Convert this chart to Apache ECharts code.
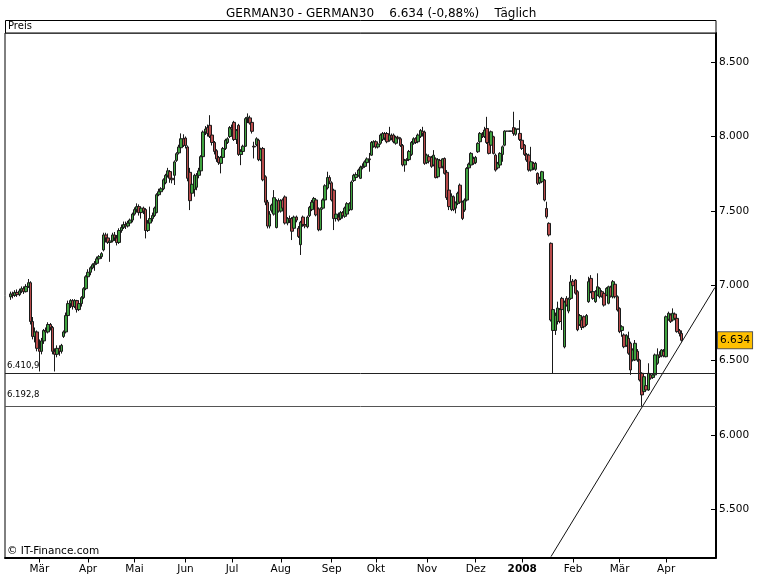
<!DOCTYPE html>
<html><head><meta charset="utf-8">
<script src="https://cdn.jsdelivr.net/npm/echarts@6/dist/echarts.min.js"></script>
<style>html,body{margin:0;padding:0;background:#fff}#c{width:770px;height:578px}</style>
</head><body><div id="c"></div>
<script>
// ---- data ----
const titleText = 'GERMAN30 - GERMAN30    6.634 (-0,88%)    Täglich';
const monthNames = ['Jan','Feb','Mär','Apr','Mai','Jun','Jul','Aug','Sep','Okt','Nov','Dez'];
const yTicks = [5500, 6000, 6500, 7000, 7500, 8000, 8500];
const categoryCount = 321;      // weekdays from 2007-02-08
const leadingEmpty = 2;         // first candle on 2007-02-12
const supportLevels = [6410.9, 6192.8];
const trendLine = [[246, 5184], [320, 6988]]; // [category index, value]
const lastPrice = 6634;
const copyright = '© IT-Finance.com';
const panelLabel = 'Preis';

// daily candles [open, close, low, high]
const candles = [
[6925,6945,6905,6960],[6945,6935,6915,6960],[6935,6955,6925,6970],[6955,6940,6925,6975],[6940,6965,6930,6980],
[6965,6980,6950,6995],[6980,6960,6945,6995],[6960,6995,6955,7010],[6995,7020,6985,7045],[7020,6760,6740,7030],
[6760,6660,6640,6790],[6660,6690,6620,6720],[6690,6580,6560,6700],[6580,6560,6425,6640],[6560,6630,6540,6650],
[6630,6700,6610,6710],[6700,6690,6660,6720],[6690,6740,6680,6755],[6740,6720,6700,6750],[6720,6560,6540,6730],
[6560,6540,6425,6580],[6540,6580,6520,6600],[6580,6560,6530,6600],[6560,6600,6545,6610],[6660,6690,6650,6700],
[6690,6800,6680,6820],[6800,6880,6790,6900],[6880,6900,6850,6910],[6900,6860,6840,6910],[6860,6900,6850,6910],
[6900,6840,6820,6905],[6840,6880,6830,6900],[6880,6920,6860,6930],[6920,6980,6910,6990],[6980,7060,6970,7070],
[7060,7090,7050,7110],[7090,7120,7070,7130],[7120,7140,7110,7150],[7140,7150,7100,7165],[7150,7180,7140,7195],
[7180,7195,7160,7205],[7195,7215,7180,7225],[7240,7340,7230,7355],[7340,7320,7290,7355],[7320,7290,7280,7350],
[7290,7300,7160,7320],[7300,7340,7290,7355],[7340,7320,7300,7360],[7320,7290,7270,7340],[7290,7370,7280,7385],
[7370,7390,7355,7410],[7390,7410,7380,7430],[7410,7400,7380,7430],[7400,7420,7390,7435],
[7420,7440,7400,7450],[7440,7480,7425,7490],[7480,7510,7470,7525],[7510,7530,7490,7552],[7530,7490,7470,7545],
[7490,7520,7450,7530],[7520,7500,7480,7530],[7510,7370,7317,7520],[7370,7420,7360,7440],[7420,7450,7410,7530],
[7450,7470,7430,7490],[7470,7520,7460,7530],[7490,7610,7485,7620],[7610,7630,7600,7650],[7630,7650,7615,7660],
[7650,7710,7640,7720],[7690,7740,7680,7750],[7740,7770,7725,7790],[7765,7720,7690,7775],[7720,7710,7686,7740],
[7740,7830,7675,7840],[7840,7885,7830,7895],[7890,7930,7880,7945],[7925,7985,7915,8021],[7985,7940,7930,8015],
[7990,7940,7920,8000],[7930,7720,7700,7940],[7760,7570,7507,7790],[7620,7680,7600,7690],[7645,7740,7597,7750],
[7660,7740,7640,7755],[7740,7770,7720,7790],[7770,7865,7760,7875],[7865,8030,7860,8040],[8030,8050,8010,8070],
[8060,8020,8000,8080],[8075,8000,7990,8143],[8010,7960,7940,8025],[7960,7900,7880,7970],[7905,7850,7830,7915],
[7860,7825,7810,7870],[7820,7860,7753,7870],[7860,7920,7850,7930],[7920,7975,7910,7985],[7960,7985,7950,7995],
[8000,8060,7990,8070],[8060,8050,8030,8080],[8095,7980,7970,8105],[7980,8040,7950,8050],[8075,7880,7870,8085],
[7880,7900,7808,7915],[7900,7935,7880,7945],[7935,8120,7930,8130],[8120,8130,8090,8155],[8125,8090,8080,8140],
[8095,8035,8020,8105],[7935,7930,7853,7965],[7945,7985,7935,7995],[7975,7845,7835,7985],[7845,7915,7835,7925],
[7920,7710,7700,7930],[7730,7560,7540,7740],[7560,7400,7384,7575],[7400,7480,7384,7500],[7505,7540,7490,7550],
[7480,7590,7470,7641],[7390,7570,7384,7580],[7570,7500,7490,7585],[7500,7570,7490,7580],[7575,7520,7505,7585],
[7595,7420,7410,7605],[7420,7450,7405,7460],[7450,7440,7420,7470],[7450,7365,7306,7460],[7385,7460,7375,7470],
[7460,7440,7425,7470],[7385,7330,7320,7400],[7275,7425,7206,7435],[7460,7410,7395,7470],[7410,7400,7385,7430],
[7395,7460,7385,7470],[7470,7525,7460,7535],[7510,7560,7500,7575],[7560,7585,7540,7595],[7575,7475,7465,7585],
[7515,7375,7365,7525],[7375,7515,7370,7525],[7520,7575,7510,7585],[7575,7670,7565,7680],[7655,7725,7645,7764],
[7725,7700,7680,7740],[7690,7575,7565,7700],[7640,7450,7373,7650],[7450,7480,7430,7490],[7460,7440,7430,7490],
[7450,7490,7440,7500],[7490,7470,7450,7500],[7465,7520,7455,7530],[7480,7550,7470,7560],
[7510,7550,7500,7560],[7510,7695,7505,7705],[7705,7740,7695,7750],[7725,7745,7715,7760],[7740,7775,7730,7785],
[7720,7795,7715,7805],[7790,7800,7780,7820],[7800,7830,7790,7840],[7825,7850,7815,7860],[7850,7845,7764,7890],
[7875,7960,7870,7970],[7935,7965,7925,7975],[7965,7930,7920,7975],[7930,7950,7920,7960],[7955,8010,7945,8020],
[7980,8020,7970,8030],[8020,7990,7975,8030],[8020,7965,7955,8030],[7975,8010,7965,8065],[8005,7990,7975,8020],
[8010,7965,7955,8020],[7955,7995,7945,8005],[7995,7985,7965,8005],[7985,7940,7930,7995],[7940,7810,7800,7950],
[7810,7840,7764,7850],[7840,7845,7820,7855],[7845,7900,7835,7910],[7880,7960,7870,7970],[7955,7985,7945,7995],
[7985,7960,7950,7995],[7965,8010,7955,8020],[8000,8040,7990,8050],[8035,8020,8000,8065],[8030,7820,7810,8040],
[7825,7875,7815,7885],[7865,7835,7820,7880],[7860,7800,7790,7870],[7810,7875,7800,7909],[7850,7725,7719,7860],
[7730,7845,7720,7855],[7840,7790,7780,7850],[7800,7850,7786,7855],[7853,7753,7745,7860],[7760,7590,7575,7775],
[7641,7530,7507,7650],[7510,7600,7500,7619],[7596,7510,7500,7605],
[7520,7555,7485,7565],[7552,7619,7540,7630],[7674,7560,7550,7685],[7560,7451,7440,7570],[7507,7574,7495,7585],
[7574,7786,7565,7795],[7790,7815,7780,7825],[7809,7887,7800,7895],[7853,7820,7810,7865],[7825,7860,7815,7870],
[7898,7954,7890,7962],[7965,8021,7955,8030],[8010,8000,7990,8030],[8000,8043,7990,8065],[8054,7960,7950,8132],
[7960,7887,7880,7970],[7942,8032,7935,8040],[7998,7887,7880,8005],[7875,7775,7765,7885],[7790,7820,7780,7830],
[7809,7887,7800,7895],[7880,7931,7831,7940],[7942,8036,7935,8042],[8036,8036,8036,8036],[8036,8036,8036,8036],
[8036,8036,8036,8036],[8060,8020,8005,8166],[8015,8050,8005,8060],[8050,8050,8050,8050],[8021,7980,7970,8110],
[7975,7920,7910,7985],[7942,7880,7870,7950],[7880,7842,7830,7890],[7875,7775,7765,7885],[7775,7831,7765,7931],
[7820,7790,7775,7830],[7780,7820,7770,7830],[7753,7686,7675,7760],[7690,7720,7680,7730],[7697,7764,7690,7770],
[7708,7574,7565,7715],[7518,7462,7450,7563],[7418,7340,7330,7425],
[7284,6770,6760,7290],[6700,6840,6413,6860],[6700,6800,6670,6820],[6760,6850,6740,6893],[6840,6760,6748,6850],
[6915,6840,6703,6925],[6590,6890,6580,6900],[6915,6870,6860,6930],[6830,6910,6815,6920],[6915,7025,6905,7071],
[7030,7000,6985,7045],[7038,6950,6940,7045],[6960,6705,6695,6970],[6740,6800,6730,6810],[6770,6720,6703,6800],
[6792,6725,6715,6800],[6740,6800,6730,6810],[6893,7027,6885,7060],[7049,6960,6950,7071],[6960,6915,6905,6970],
[6893,6960,6885,6970],[6937,6993,6930,7083],[6926,6982,6915,6990],[6960,6930,6920,6970],[6949,6870,6860,6955],
[6937,6982,6930,6990],[6882,6993,6875,7000],[6990,6930,6920,7000],[6926,7027,6915,7038],[7010,6926,6915,7020],
[6926,6837,6827,6935],[6848,6692,6682,6855],[6700,6725,6658,6735],[6670,6591,6581,6680],[6600,6665,6590,6675],
[6647,6547,6537,6692],[6614,6435,6402,6625],[6502,6569,6492,6580],[6502,6614,6495,6636],[6560,6502,6490,6575],
[6502,6368,6358,6510],[6413,6268,6192.8,6420],[6290,6390,6280,6400],[6330,6301,6290,6340],[6301,6413,6295,6480],
[6402,6380,6370,6410],[6385,6402,6375,6412],[6402,6536,6395,6545],[6480,6536,6470,6580],[6536,6524,6515,6560],
[6530,6569,6520,6575],[6560,6530,6520,6575],[6524,6792,6520,6800],[6775,6815,6765,6826],[6804,6759,6750,6815],
[6770,6815,6760,6848],[6810,6781,6770,6820],[6781,6692,6685,6790],[6700,6680,6660,6710],[6680,6634,6625,6700]
];

// ---- helpers ----
function de(v, dec) {
  const s = v.toFixed(dec);
  const parts = s.split('.');
  const intPart = parts[0].replace(/\B(?=(\d{3})+(?!\d))/g, '.');
  return parts.length > 1 ? intPart + ',' + parts[1] : intPart;
}
const dates = [];
(function () {
  let t = Date.UTC(2007, 1, 8);
  while (dates.length < categoryCount) {
    const d = new Date(t);
    const wd = d.getUTCDay();
    if (wd !== 0 && wd !== 6) dates.push(d.toISOString().slice(0, 10));
    t += 86400000;
  }
})();
function isMonthStart(idx) {
  if (idx <= 0) return false;
  if (dates[idx] >= '2008-05') return false;
  return dates[idx].slice(0, 7) !== dates[idx - 1].slice(0, 7);
}
const seriesData = [];
for (let k = 0; k < leadingEmpty; k++) seriesData.push(['-', '-', '-', '-']);
candles.forEach(c => seriesData.push(c));

const FONT = 'DejaVu Sans';
const chart = echarts.init(document.getElementById('c'), null, { renderer: 'canvas' });
const option = {
  animation: false,
  backgroundColor: '#fff',
  textStyle: { fontFamily: FONT },
  title: {
    text: titleText, left: 221, top: 3,
    textStyle: { fontFamily: FONT, fontSize: 12, fontWeight: 'normal', color: '#000' }
  },
  grid: { left: 5, right: 54, top: 33, bottom: 20.5, show: true, borderColor: '#000', borderWidth: 1, backgroundColor: '#fff' },
  xAxis: {
    type: 'category', data: dates, boundaryGap: true,
    axisLine: { show: true, lineStyle: { color: '#000', width: 2 } },
    axisTick: { show: true, alignWithLabel: true, interval: (i) => isMonthStart(i), length: 5, lineStyle: { color: '#000' } },
    axisLabel: {
      interval: (i) => isMonthStart(i), margin: 6, fontSize: 10.5, color: '#000', fontFamily: FONT,
      formatter: (v) => {
        const m = +v.slice(5, 7);
        return m === 1 ? '{b|' + v.slice(0, 4) + '}' : monthNames[m - 1];
      },
      rich: { b: { fontWeight: 'bold', fontSize: 10.5, color: '#000', fontFamily: FONT } }
    },
    splitLine: { show: false }
  },
  yAxis: {
    type: 'value', position: 'right', min: 5178, max: 8694,
    axisLine: { show: true, onZero: false, lineStyle: { color: '#000', width: 2 } },
    axisTick: { show: true, inside: true, length: 5, customValues: yTicks, lineStyle: { color: '#000' } },
    axisLabel: { customValues: yTicks, formatter: (v) => de(v, 0), fontSize: 10.5, color: '#000', margin: 3, fontFamily: FONT },
    splitLine: { show: false }
  },
  series: [{
    type: 'candlestick',
    data: seriesData,
    barWidth: 3,
    itemStyle: { color: '#3fa33f', color0: '#b84a4a', borderColor: '#1a1a1a', borderColor0: '#1a1a1a', borderWidth: 1 },
    markLine: {
      symbol: ['none', 'none'], silent: true, animation: false,
      data: [
        { yAxis: supportLevels[0], lineStyle: { color: '#222', width: 1, type: 'solid' },
          label: { show: true, position: 'insideStartTop', formatter: de(supportLevels[0], 1), fontSize: 8.5, color: '#000', fontFamily: FONT, distance: [2, 3] } },
        { yAxis: supportLevels[1], lineStyle: { color: '#555', width: 1, type: 'solid' },
          label: { show: true, position: 'insideStartTop', formatter: de(supportLevels[1], 1), fontSize: 8.5, color: '#000', fontFamily: FONT, distance: [2, 7] } },
        [
          { coord: [dates[trendLine[0][0]], trendLine[0][1]], lineStyle: { color: '#111', width: 1, type: 'solid' }, label: { show: false } },
          { coord: [dates[trendLine[1][0]], trendLine[1][1]] }
        ],
        { yAxis: lastPrice, lineStyle: { color: 'rgba(0,0,0,0)', width: 1, type: 'solid' },
          label: { show: true, position: 'end', formatter: de(lastPrice, 0), fontSize: 10.5, color: '#000', fontFamily: FONT,
                   backgroundColor: '#FFC000', borderColor: '#555', borderWidth: 1, padding: [3, 2, 2, 2], distance: 2 } }
      ]
    }
  }],
  graphic: [
    { type: 'rect', shape: { x: 5.5, y: 20.5, width: 710.5, height: 12.5 }, style: { fill: '#fff', stroke: '#000', lineWidth: 1 }, z: 10 },
    { type: 'text', x: 8, y: 21, style: { text: panelLabel, font: '10px "DejaVu Sans"', fill: '#000' }, z: 11 },
    { type: 'text', x: 7, y: 546, style: { text: copyright, font: '10.5px "DejaVu Sans"', fill: '#000' }, z: 11 }
  ]
};
chart.setOption(option);
</script></body></html>
